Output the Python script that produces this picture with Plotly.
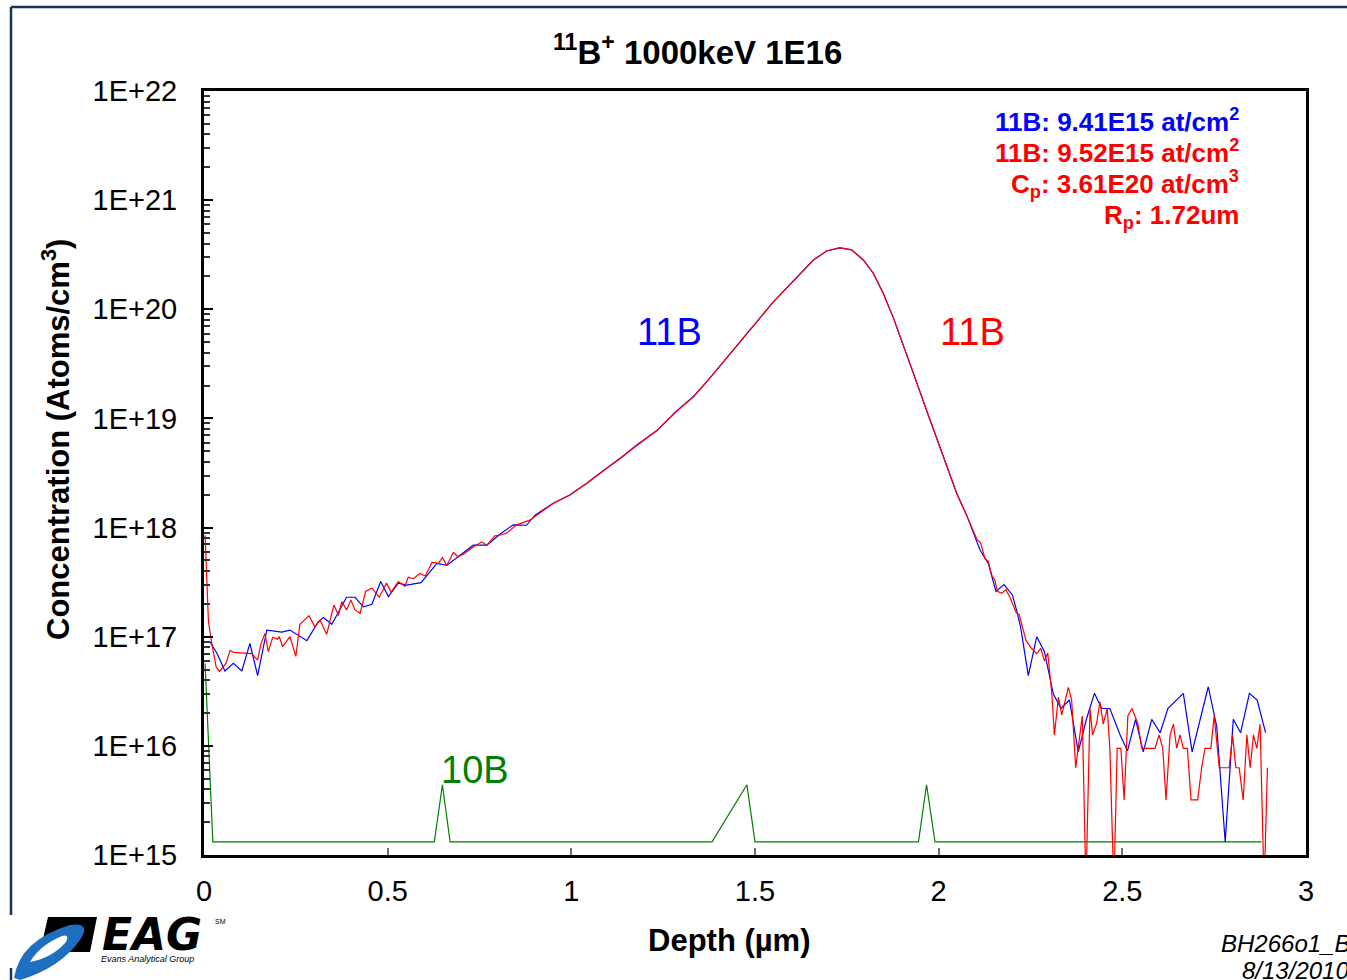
import plotly.graph_objects as go

# SIMS depth profile, 11B+ 1000keV 1E16 implant
# depth in um, concentration in atoms/cm3

blue_depth = [0.016, 0.035, 0.057, 0.080, 0.103, 0.125, 0.146, 0.171, 0.212, 0.234,
              0.280, 0.311, 0.325, 0.348, 0.388, 0.411, 0.434, 0.457, 0.481, 0.502,
              0.529, 0.552, 0.591, 0.634, 0.661, 0.733, 0.770, 0.810, 0.842, 0.878,
              0.901, 0.951, 0.996, 1.042, 1.096, 1.133, 1.178, 1.232, 1.287, 1.332,
              1.369, 1.423, 1.486, 1.550, 1.614, 1.659, 1.695, 1.731, 1.763, 1.795,
              1.822, 1.849, 1.877, 1.904, 1.931, 1.967, 1.995, 2.022, 2.049, 2.076,
              2.113, 2.135, 2.156, 2.178, 2.201, 2.213, 2.223, 2.244, 2.267, 2.288,
              2.312, 2.333, 2.356, 2.380, 2.403, 2.424, 2.444, 2.466, 2.494, 2.514,
              2.536, 2.557, 2.580, 2.603, 2.624, 2.666, 2.690, 2.734, 2.757, 2.780,
              2.802, 2.822, 2.846, 2.867, 2.890]
blue_conc = [9.0e16, 7.1e16, 4.85e16, 5.7e16, 4.85e16, 8.7e16, 4.4e16, 1.15e17, 1.1e17, 1.15e17,
             9.2e16, 1.37e17, 1.5e17, 1.3e17, 2.3e17, 2.3e17, 1.88e17, 1.98e17, 3.2e17, 2.33e17,
             3.1e17, 2.97e17, 3.13e17, 4.7e17, 4.5e17, 6.9e17, 6.9e17, 8.9e17, 1.06e18, 1.05e18,
             1.3e18, 1.67e18, 1.99e18, 2.55e18, 3.5e18, 4.3e18, 5.7e18, 7.7e18, 1.17e19, 1.58e19,
             2.17e19, 3.55e19, 6.45e19, 1.17e20, 1.99e20, 2.83e20, 3.42e20, 3.65e20, 3.5e20, 2.83e20,
             2.14e20, 1.4e20, 8.3e19, 4.7e19, 2.6e19, 1.19e19, 6.6e18, 3.6e18, 2.06e18, 1.3e18,
             6.2e17, 4.7e17, 2.6e17, 3.0e17, 2.4e17, 1.7e17, 1.23e17, 4.4e16, 1.0e17, 7.3e16,
             3.0e16, 2.2e16, 2.63e16, 8.8e15, 1.79e16, 3.03e16, 2.2e16, 2.2e16, 1.26e16, 9.0e15,
             1.75e16, 8.8e15, 1.75e16, 1.32e16, 2.2e16, 3.03e16, 8.8e15, 3.48e16, 1.5e16, 1.32e15,
             1.75e16, 1.32e16, 3.03e16, 2.63e16, 1.32e16]

red_depth = [0.003, 0.012, 0.021, 0.033, 0.042, 0.060, 0.071, 0.080, 0.130, 0.146,
             0.155, 0.166, 0.175, 0.187, 0.200, 0.205, 0.214, 0.234, 0.250, 0.261,
             0.286, 0.302, 0.316, 0.334, 0.348, 0.354, 0.366, 0.375, 0.388, 0.400,
             0.411, 0.425, 0.440, 0.457, 0.477, 0.497, 0.509, 0.529, 0.547, 0.556,
             0.570, 0.588, 0.602, 0.621, 0.638, 0.649, 0.661, 0.679, 0.692, 0.706,
             0.729, 0.756, 0.770, 0.792, 0.810, 0.824, 0.851, 0.887, 0.951, 0.996,
             1.042, 1.096, 1.133, 1.178, 1.232, 1.287, 1.332, 1.369, 1.423, 1.486,
             1.550, 1.614, 1.659, 1.695, 1.731, 1.763, 1.795, 1.822, 1.849, 1.877,
             1.904, 1.931, 1.967, 1.995, 2.022, 2.049, 2.076, 2.104, 2.114, 2.126,
             2.135, 2.144, 2.153, 2.160, 2.172, 2.183, 2.194, 2.211, 2.219, 2.238,
             2.253, 2.267, 2.278, 2.288, 2.297, 2.308, 2.315, 2.326, 2.335, 2.353,
             2.362, 2.373, 2.391, 2.401, 2.412, 2.419, 2.430, 2.439, 2.448, 2.459,
             2.466, 2.477, 2.486, 2.496, 2.505, 2.515, 2.526, 2.542, 2.553, 2.589,
             2.600, 2.610, 2.619, 2.630, 2.639, 2.648, 2.657, 2.666, 2.677, 2.687,
             2.705, 2.716, 2.725, 2.741, 2.750, 2.764, 2.791, 2.800, 2.809, 2.818,
             2.829, 2.839, 2.848, 2.857, 2.866, 2.875, 2.886, 2.895]
red_conc = [8.5e17, 1.4e17, 8.7e16, 5.3e16, 4.8e16, 5.7e16, 7.5e16, 7.2e16, 7.0e16, 6.1e16,
            8.6e16, 1.07e17, 7.3e16, 9.9e16, 9.5e16, 1.0e17, 8.1e16, 1.0e17, 6.6e16, 1.3e17,
            1.56e17, 1.23e17, 1.42e17, 1.05e17, 1.64e17, 1.95e17, 1.56e17, 2.1e17, 1.76e17, 2.17e17,
            1.76e17, 1.64e17, 2.6e17, 2.8e17, 2.3e17, 3.1e17, 2.55e17, 3.2e17, 2.9e17, 3.5e17,
            3.4e17, 3.8e17, 3.6e17, 4.8e17, 4.7e17, 5.3e17, 4.5e17, 5.9e17, 5.4e17, 5.7e17,
            6.5e17, 7.4e17, 6.9e17, 8.4e17, 8.6e17, 8.9e17, 1.06e18, 1.17e18, 1.67e18, 1.99e18,
            2.55e18, 3.5e18, 4.3e18, 5.7e18, 7.7e18, 1.17e19, 1.58e19, 2.17e19, 3.55e19, 6.45e19,
            1.17e20, 1.99e20, 2.83e20, 3.42e20, 3.67e20, 3.5e20, 2.83e20, 2.14e20, 1.4e20, 8.3e19,
            4.7e19, 2.6e19, 1.19e19, 6.6e18, 3.6e18, 2.06e18, 1.3e18, 7.8e17, 7.3e17, 5.2e17,
            4.9e17, 3.7e17, 3.3e17, 2.6e17, 2.5e17, 2.7e17, 2.3e17, 1.66e17, 1.6e17, 9.2e16,
            7.8e16, 7.0e16, 7.8e16, 6.0e16, 7.1e16, 3.0e16, 1.26e16, 2.8e16, 1.92e16, 3.43e16,
            2.63e16, 6.3e15, 1.88e16, 5e14, 2.2e16, 1.26e16, 1.61e16, 2.54e16, 1.58e16, 2.2e16,
            9.5e15, 5e14, 9.5e15, 9.5e15, 3.2e15, 1.88e16, 2.2e16, 1.61e16, 9.5e15, 9.5e15,
            1.26e16, 9.5e15, 3.2e15, 1.26e16, 1.58e16, 9.5e15, 1.26e16, 9.5e15, 9.5e15, 3.2e15,
            3.2e15, 6.3e15, 9.5e15, 9.5e15, 1.88e16, 6.3e15, 6.3e15, 1.26e16, 6.3e15, 6.3e15,
            3.2e15, 1.26e16, 6.3e15, 1.26e16, 9.5e15, 1.58e16, 5e14, 6.3e15]

green_depth = [0.003, 0.024, 0.627, 0.649, 0.670, 1.383, 1.478, 1.500, 1.945, 1.967, 1.990, 2.879]
green_conc = [5.7e16, 1.32e15, 1.32e15, 4.4e15, 1.32e15, 1.32e15, 4.4e15, 1.32e15, 1.32e15, 4.4e15, 1.32e15, 1.32e15]

y_exponents = [15, 16, 17, 18, 19, 20, 21, 22]
x_ticks = [0, 0.5, 1, 1.5, 2, 2.5, 3]

W, H = 1347, 980
L, R, T, B = 204, 1306, 91, 855


# pixel -> paper helpers for the decorations around the plot
def px(x):
    return (x - L) / (R - L)


def py(y):
    return (B - y) / (B - T)


font = "Liberation Sans, Arial, sans-serif"

fig = go.Figure()
fig.add_trace(go.Scatter(x=green_depth, y=green_conc, mode="lines",
                         line=dict(color="#008000", width=1.2)))
fig.add_trace(go.Scatter(x=blue_depth, y=blue_conc, mode="lines",
                         line=dict(color="#0000FF", width=1.2)))
fig.add_trace(go.Scatter(x=red_depth, y=red_conc, mode="lines",
                         line=dict(color="#FF0000", width=1.2)))

minor_vals = [m * 10.0 ** e for e in y_exponents[:-1] for m in range(2, 10)]

fig.update_xaxes(range=[0, 3], tickvals=x_ticks, ticks="inside", ticklen=7, tickwidth=1.5,
                 tickcolor="#707070", showline=True, linecolor="black", linewidth=3,
                 mirror=True, showgrid=False, zeroline=False, ticklabelstandoff=8,
                 tickfont=dict(family=font, size=29, color="black"))
fig.update_yaxes(type="log", range=[15, 22],
                 tickvals=[10.0 ** e for e in y_exponents],
                 ticktext=[f"1E+{e}" for e in y_exponents],
                 ticks="inside", ticklen=9, tickwidth=1.5, tickcolor="black",
                 minor=dict(tickvals=minor_vals, ticks="inside", ticklen=6, tickcolor="#333", showgrid=False),
                 showline=True, linecolor="black", linewidth=3, mirror=True,
                 showgrid=False, zeroline=False, ticklabelstandoff=18,
                 tickfont=dict(family=font, size=29, color="black"))

ann = []
ann.append(dict(text="<b><sup>11</sup>B<sup>+</sup> 1000keV 1E16</b>", x=px(697), y=py(50),
                font=dict(size=33, color="black")))
ann.append(dict(text="<b>Concentration (Atoms/cm<sup>3</sup>)</b>", x=px(56), y=py(440),
                textangle=-90, font=dict(size=31, color="black")))
ann.append(dict(text="<b>Depth (µm)</b>", x=px(729), y=py(940), font=dict(size=31, color="black")))

stats = [("<b>11B: 9.41E15 at/cm<sup>2</sup></b>", "#0000FF", 120),
         ("<b>11B: 9.52E15 at/cm<sup>2</sup></b>", "#FF0000", 152),
         ("<b>C<sub>p</sub>: 3.61E20 at/cm<sup>3</sup></b>", "#FF0000", 184),
         ("<b>R<sub>p</sub>: 1.72um</b>", "#FF0000", 216)]
for txt, col, yy in stats:
    ann.append(dict(text=txt, x=px(1241), y=py(yy), xanchor="right", font=dict(size=26, color=col)))

ann.append(dict(text="11B", x=px(669), y=py(332), font=dict(size=38, color="#0000FF")))
ann.append(dict(text="11B", x=px(972), y=py(332), font=dict(size=38, color="#FF0000")))
ann.append(dict(text="10B", x=px(475), y=py(770), font=dict(size=38, color="#008000")))

ann.append(dict(text="<i>BH266o1_B</i>", x=px(1219), y=py(943), xanchor="left",
                font=dict(size=24, color="black")))
ann.append(dict(text="<i>8/13/2010</i>", x=px(1240), y=py(970), xanchor="left",
                font=dict(size=24, color="black")))

# EAG logo (approximation)
ann.append(dict(text="<b><i>EAG</i></b>", x=px(100), y=py(935), xanchor="left",
                font=dict(size=44, color="black", family="DejaVu Sans")))
ann.append(dict(text="<i>Evans Analytical Group</i>", x=px(99), y=py(959), xanchor="left",
                font=dict(size=9, color="black")))
ann.append(dict(text="SM", x=px(213), y=py(921), xanchor="left", font=dict(size=7, color="black")))

for a in ann:
    a.update(xref="paper", yref="paper", showarrow=False)
    a.setdefault("xanchor", "center")
    a.setdefault("yanchor", "middle")
    a["font"].setdefault("family", font)

shapes = [
    # slide frame
    dict(type="line", x0=px(11), x1=px(1400), y0=py(7), y1=py(7), line=dict(color="#17365D", width=2.5)),
    dict(type="line", x0=px(11), x1=px(11), y0=py(7), y1=py(915), line=dict(color="#17365D", width=2.5)),
    dict(type="line", x0=px(11), x1=px(11), y0=py(968), y1=py(985), line=dict(color="#17365D", width=2.5)),
    # logo badge + swoosh
    dict(type="path", path=(f"M {px(48)},{py(917)} L {px(97)},{py(917)} L {px(90)},{py(952)} "
                            f"L {px(40)},{py(952)} Z"),
         fillcolor="black", line=dict(width=0)),
    dict(type="path", path=(f"M {px(14)},{py(978)} Q {px(20)},{py(940)} {px(70)},{py(925)} "
                            f"Q {px(92)},{py(922)} {px(80)},{py(940)} Q {px(60)},{py(968)} {px(20)},{py(980)} Z"),
         fillcolor="#1E6FC0", line=dict(width=0)),
    dict(type="path", path=(f"M {px(30)},{py(962)} Q {px(40)},{py(945)} {px(62)},{py(936)} "
                            f"Q {px(70)},{py(934)} {px(66)},{py(942)} Q {px(52)},{py(958)} {px(30)},{py(962)} Z"),
         fillcolor="white", line=dict(width=0)),
]
for s in shapes:
    s.update(xref="paper", yref="paper", layer="above")

fig.update_layout(width=W, height=H, margin=dict(l=L, r=W - R, t=T, b=H - B),
                  plot_bgcolor="white", paper_bgcolor="white", showlegend=False,
                  annotations=ann, shapes=shapes)

# drop the browser's default body margin so the figure sits at the page corner
fig.write_html("out.html", config={"displayModeBar": False},
               post_script="document.body.style.margin='0';")
